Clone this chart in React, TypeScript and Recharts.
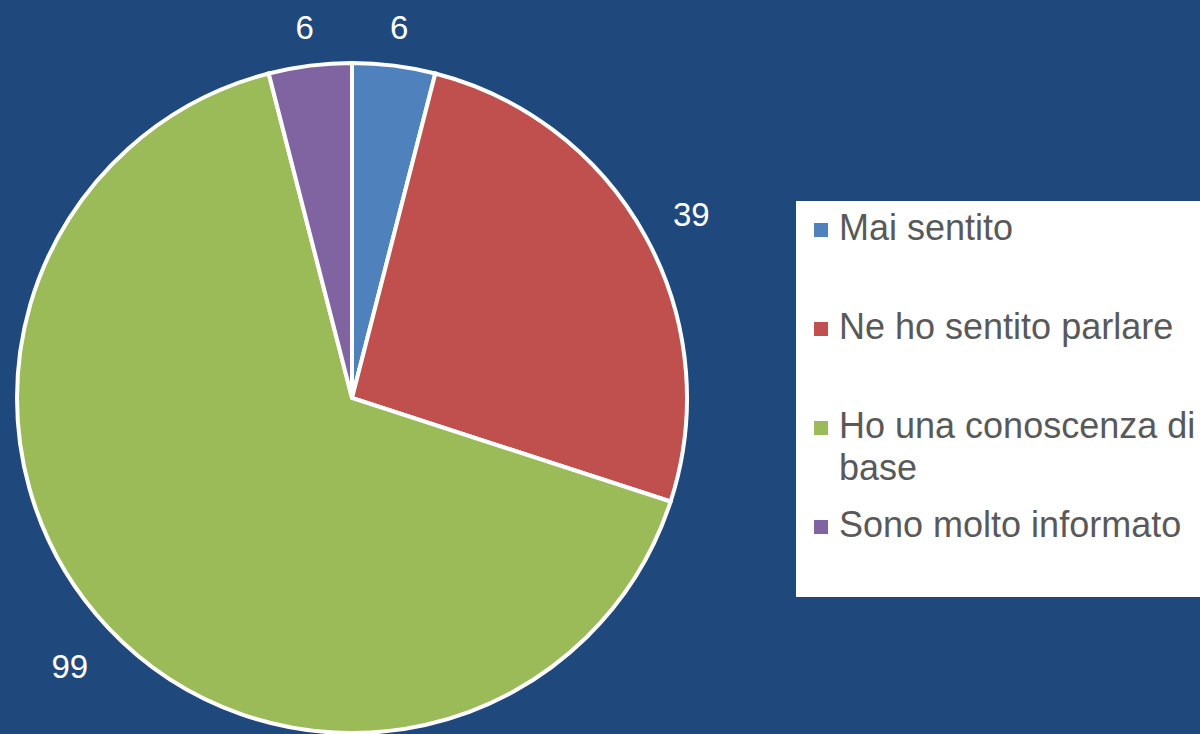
import { PieChart, Pie, Cell, Legend } from 'recharts';

// Knowledge level answers (count of respondents)
const categories = [
  'Mai sentito',
  'Ne ho sentito parlare',
  'Ho una conoscenza di base',
  'Sono molto informato',
];
const counts = [6, 39, 99, 6];

const COLORS = ['#4F81BD', '#C0504D', '#9BBB59', '#8064A2'];
const BG = '#1F497D';
const FONT = '"Liberation Sans", Arial, sans-serif';

const data = categories.map((name, i) => ({ name, value: counts[i] }));

const RAD = Math.PI / 180;
const LABEL_SIZE = 33;

// outside-end labels: the label box sits just off the rim, like Excel does
const renderLabel = (props: any) => {
  const { cx, cy, midAngle, outerRadius, value } = props;
  const dx = Math.cos(-midAngle * RAD);
  const dy = Math.sin(-midAngle * RAD);
  const w = String(value).length * LABEL_SIZE * 0.7;
  const h = LABEL_SIZE;
  const extent = Math.abs(dx) * (w / 2) + Math.abs(dy) * (h / 2);
  const r = outerRadius + 24 + extent;
  return (
    <text
      x={cx + r * dx}
      y={cy + r * dy + 3}
      fill="#ffffff"
      fontSize={LABEL_SIZE}
      fontFamily={FONT}
      textAnchor="middle"
      dominantBaseline="central"
    >
      {value}
    </text>
  );
};

// legend keeps the data order (recharts would sort it by name)
const renderLegend = () => (
  <div
    style={{
      background: '#ffffff',
      width: 420,
      height: 396,
      boxSizing: 'border-box',
      padding: '6px 0 0 18px',
      fontFamily: FONT,
      fontSize: 36,
      color: '#595959',
    }}
  >
    {data.map((entry, index) => (
      <div key={entry.name} style={{ height: 99, display: 'flex', alignItems: 'flex-start' }}>
        <span
          style={{
            width: 14,
            height: 14,
            marginTop: 16,
            flex: '0 0 14px',
            background: COLORS[index],
          }}
        />
        <span style={{ marginLeft: 11, width: 375, lineHeight: '42px' }}>
          {entry.name}
        </span>
      </div>
    ))}
  </div>
);

export default function App() {
  return (
    <div style={{ width: 1200, height: 734, overflow: 'hidden', background: BG, position: 'relative' }}>
      <style>{'body{margin:0}'}</style>
      <PieChart width={1200} height={734} margin={{ top: 0, right: 0, bottom: 0, left: 0 }}>
        <Pie
          data={data}
          dataKey="value"
          nameKey="name"
          cx={352}
          cy={398}
          outerRadius={335}
          startAngle={90}
          endAngle={-270}
          stroke="#ffffff"
          strokeWidth={4}
          label={renderLabel}
          labelLine={false}
          isAnimationActive={false}
        >
          {data.map((entry, index) => (
            <Cell key={entry.name} fill={COLORS[index]} />
          ))}
        </Pie>
        <Legend
          layout="vertical"
          align="right"
          verticalAlign="middle"
          content={renderLegend}
          wrapperStyle={{ left: 796, top: 201, width: 420, height: 396 }}
        />
      </PieChart>
    </div>
  );
}
